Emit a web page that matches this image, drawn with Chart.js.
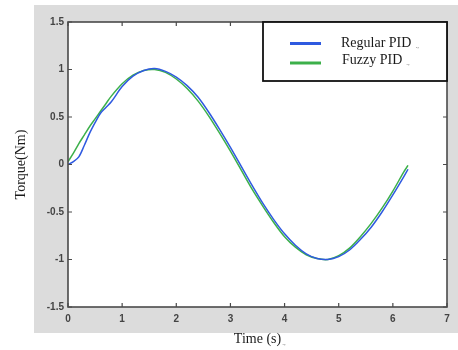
<!DOCTYPE html>
<html>
<head>
<meta charset="utf-8">
<script src="https://cdn.jsdelivr.net/npm/chart.js@4"></script>
<style>
  html, body { margin: 0; padding: 0; background: #fff; }
  #wrap { width: 458px; height: 350px; }
</style>
</head>
<body>
<div id="wrap"><canvas id="torqueChart" width="458" height="350"></canvas></div>
<script>
// values
const time = [0, 0.1, 0.2, 0.3, 0.4, 0.5, 0.6, 0.7, 0.8, 1.0, 1.2, 1.4, 1.6, 1.8, 2.0, 2.2, 2.4, 2.6, 2.8, 3.0, 3.2, 3.4, 3.6, 3.8, 4.0, 4.2, 4.4, 4.6, 4.8, 5.0, 5.2, 5.4, 5.6, 5.8, 6.0, 6.2, 6.28];
const regularPid = [0, 0.03, 0.08, 0.2, 0.33, 0.44, 0.54, 0.6, 0.66, 0.82, 0.93, 0.99, 1.01, 0.98, 0.92, 0.83, 0.71, 0.55, 0.37, 0.18, -0.02, -0.22, -0.41, -0.58, -0.73, -0.85, -0.94, -0.99, -1.0, -0.97, -0.9, -0.79, -0.66, -0.5, -0.32, -0.13, -0.05];
const fuzzyPid = [0.03, 0.12, 0.22, 0.31, 0.4, 0.48, 0.56, 0.64, 0.72, 0.85, 0.94, 0.99, 1.0, 0.97, 0.9, 0.8, 0.67, 0.51, 0.33, 0.14, -0.06, -0.26, -0.44, -0.61, -0.76, -0.87, -0.95, -0.99, -1.0, -0.96, -0.88, -0.76, -0.62, -0.46, -0.28, -0.08, -0.01];
const xTicks = [0, 1, 2, 3, 4, 5, 6, 7];
const yTicks = [-1.5, -1, -0.5, 0, 0.5, 1, 1.5];
const seriesNames = ['Regular PID', 'Fuzzy PID'];
const seriesColors = ['#2f5ae0', '#3cb04a'];

const toPoints = vals => vals.map((v, i) => ({ x: time[i], y: v }));

// gray figure background, white plot, frame, inward ticks, legend box
const matlabLook = {
  id: 'matlabLook',
  beforeDraw(chart) {
    const { ctx, chartArea: a } = chart;
    ctx.save();
    ctx.fillStyle = '#dcdcdc';
    ctx.fillRect(34, 5, 424, 328);
    ctx.fillStyle = '#fff';
    ctx.fillRect(a.left, a.top, a.right - a.left, a.bottom - a.top);
    ctx.restore();
  },
  afterDraw(chart) {
    const { ctx, chartArea: a, scales } = chart;
    ctx.save();
    ctx.strokeStyle = '#4a4a4a';
    ctx.lineWidth = 1.2;
    ctx.beginPath();
    xTicks.forEach(v => {
      const px = scales.x.getPixelForValue(v);
      ctx.moveTo(px, a.bottom); ctx.lineTo(px, a.bottom - 4);
      ctx.moveTo(px, a.top); ctx.lineTo(px, a.top + 4);
    });
    yTicks.forEach(v => {
      const py = scales.y.getPixelForValue(v);
      ctx.moveTo(a.left, py); ctx.lineTo(a.left + 4, py);
      ctx.moveTo(a.right, py); ctx.lineTo(a.right - 4, py);
    });
    ctx.stroke();
    ctx.lineWidth = 1.6;
    ctx.strokeRect(a.left, a.top, a.right - a.left, a.bottom - a.top);

    // legend
    const bx = 263, by = a.top, bw = a.right - 263, bh = 59;
    ctx.fillStyle = '#fff';
    ctx.fillRect(bx, by, bw, bh);
    ctx.strokeStyle = '#111';
    ctx.lineWidth = 1.8;
    ctx.strokeRect(bx, by, bw, bh);
    const rows = [43.5, 63];
    const textY = [43, 60];
    ctx.textBaseline = 'middle';
    chart.data.datasets.forEach((ds, i) => {
      ctx.strokeStyle = ds.borderColor;
      ctx.lineWidth = 3;
      ctx.beginPath();
      ctx.moveTo(290, rows[i]); ctx.lineTo(321, rows[i]);
      ctx.stroke();
      ctx.fillStyle = '#1a1a1a';
      ctx.font = '14px "Liberation Serif", serif';
      const tx = i === 0 ? 341 : 342;
      ctx.fillText(ds.label, tx, textY[i]);
      const w = ctx.measureText(ds.label).width;
      ctx.font = '7px "Liberation Serif", serif';
      ctx.fillStyle = '#777';
      ctx.fillText('.,', tx + w + 4, textY[i] + 3);
    });
    // small mark after the x title
    ctx.font = '14px "Liberation Serif", serif';
    const tw = ctx.measureText('Time (s)').width;
    ctx.font = '7px "Liberation Serif", serif';
    ctx.fillStyle = '#777';
    ctx.fillText('.,', (a.left + a.right) / 2 + tw / 2 + 1, 343);
    ctx.restore();
  }
};

const tickFont = { family: '"Liberation Sans", Arial, sans-serif', size: 10, weight: 'bold' };

new Chart(document.getElementById('torqueChart'), {
  type: 'scatter',
  data: {
    datasets: [
      {
        label: seriesNames[0],
        data: toPoints(regularPid),
        borderColor: seriesColors[0],
        backgroundColor: seriesColors[0],
        showLine: true,
        borderWidth: 1.5,
        pointRadius: 0,
        tension: 0.3
      },
      {
        label: seriesNames[1],
        data: toPoints(fuzzyPid),
        borderColor: seriesColors[1],
        backgroundColor: seriesColors[1],
        showLine: true,
        borderWidth: 1.5,
        pointRadius: 0,
        tension: 0.3
      }
    ]
  },
  options: {
    responsive: false,
    animation: false,
    layout: { padding: { left: 0, top: 22, right: 11, bottom: 0 } },
    plugins: {
      legend: { display: false },
      tooltip: { enabled: false }
    },
    scales: {
      x: {
        type: 'linear',
        min: 0,
        max: 7,
        afterFit: s => { s.height = 43; },
        afterBuildTicks: s => { s.ticks = xTicks.map(v => ({ value: v })); },
        grid: { display: false, drawTicks: false },
        border: { display: false },
        ticks: {
          padding: 6,
          color: '#444',
          font: tickFont,
          callback: v => String(v)
        },
        title: {
          display: true,
          text: 'Time (s)',
          color: '#1a1a1a',
          font: { family: '"Liberation Serif", serif', size: 14 },
          padding: { top: 0, bottom: 2 }
        }
      },
      y: {
        min: -1.5,
        max: 1.5,
        afterFit: s => { s.width = 68; },
        afterBuildTicks: s => { s.ticks = yTicks.map(v => ({ value: v })); },
        grid: { display: false, drawTicks: false },
        border: { display: false },
        ticks: {
          padding: 4,
          color: '#444',
          font: tickFont,
          callback: v => String(v)
        },
        title: {
          display: true,
          text: 'Torque(Nm)',
          color: '#1a1a1a',
          font: { family: '"Liberation Serif", serif', size: 14 },
          padding: { top: 13, bottom: 0 }
        }
      }
    }
  },
  plugins: [matlabLook]
});
</script>
</body>
</html>
